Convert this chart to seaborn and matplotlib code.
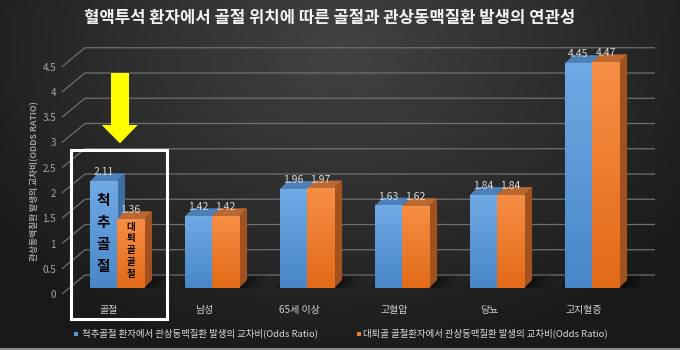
import numpy as np
import pandas as pd
import matplotlib
matplotlib.use("Agg")
import matplotlib.pyplot as plt
from matplotlib.patches import Polygon, Rectangle
import seaborn as sns

# ---- data -------------------------------------------------------------
title = "혈액투석 환자에서 골절 위치에 따른 골절과 관상동맥질환 발생의 연관성"
categories = ["골절", "남성", "65세 이상", "고혈압", "당뇨", "고지혈증"]
spine_or = [2.11, 1.42, 1.96, 1.63, 1.84, 4.45]
femur_or = [1.36, 1.42, 1.97, 1.62, 1.84, 4.47]
series_names = ["척추골절 환자에서 관상동맥질환 발생의 교차비(Odds Ratio)",
                "대퇴골 골절환자에서 관상동맥질환 발생의 교차비(Odds Ratio)"]
y_ticks = [0, 0.5, 1, 1.5, 2, 2.5, 3, 3.5, 4, 4.5]
y_title = "관상동맥질환 발생의 교차비(ODDS RATIO)"
spine_label = "척추골절"
femur_label = "대퇴골골절"

# ---- style ------------------------------------------------------------
sns.set_style("dark")
plt.rcParams["font.family"] = ["Noto Sans CJK KR", "DejaVu Sans"]

BLUE = "#5B9BD5"
ORANGE = "#ED7D31"
FRONT = [("#70AAE5", "#4886C8"), ("#F78E45", "#E26A18")]
TOP = ["#4D80B7", "#BC6832"]
SIDE = ["#3E6FA3", "#A2521E"]
TXT = "#d9d9d9"

W, H = 680, 350
fig = plt.figure(figsize=(W / 100, H / 100), dpi=100)

# background: dark radial gradient
bg = fig.add_axes([0, 0, 1, 1], zorder=0)
bg.axis("off")
yy, xx = np.mgrid[0:H, 0:W]
d = np.sqrt(((xx - 340) / 430) ** 2 + ((yy - 50) / 320) ** 2)
v = 0.26 - 0.16 * np.clip(d, 0, 1)
bg.imshow(np.dstack([v, v, v]), extent=[0, W, H, 0], aspect="auto")
bg.add_patch(Rectangle((0, H - 2.5), W, 2.5, color="#8a8a8a", lw=0))
bg.set_xlim(0, W)
bg.set_ylim(H, 0)

# plotting area: category axis in front plane
X0, PXU, Y0, PYU = 69.5, 95.0, 288.0, 50.5
ax = fig.add_axes([X0 / W, (H - Y0) / H, 6 * PXU / W, 5 * PYU / H], zorder=1)
ax.patch.set_alpha(0)


def px(x):
    return (x - X0) / PXU - 0.5


def py(y):
    return (Y0 - y) / PYU


DX, DY = 8 / PXU, 8 / PYU

# back-wall gridlines with slanted lead-ins and tick labels
for t in y_ticks:
    ax.plot([px(62), px(85), px(655)], [t + py(294), t + py(275), t + py(275)],
            color="#707070", lw=0.9, zorder=1, clip_on=False, solid_capstyle="butt")
    ax.text(px(56), t + py(295), f"{t:g}", ha="right", va="center",
            fontsize=7, color="#a6a6a6", clip_on=False)

df = pd.DataFrame({
    "category": categories * 2,
    "value": spine_or + femur_or,
    "series": [series_names[0]] * len(categories) + [series_names[1]] * len(categories),
})
sns.barplot(data=df, x="category", y="value", hue="series", order=categories,
            hue_order=series_names, palette=[BLUE, ORANGE], width=0.57, gap=0,
            saturation=1, errorbar=None, legend=False, linewidth=0, ax=ax)

values = [spine_or, femur_or]
blue_bars = list(ax.containers[0])
orange_bars = list(ax.containers[1])

# soft floor shadows under each pair of bars
for b, o in zip(blue_bars, orange_bars):
    xl = b.get_x()
    xr = o.get_x() + o.get_width()
    for g, a in [(16, 0.10), (11, 0.13), (7, 0.17), (3, 0.22)]:
        gx, gy = g / PXU, g * 0.35 / PYU
        ax.add_patch(Polygon([(xl - gx * 0.5, -gy), (xr + gx, -gy),
                              (xr + DX + gx * 1.3, DY + gy), (xl + DX - gx * 0.3, DY + gy)],
                             closed=True, color="black", alpha=a, lw=0, zorder=2))

# 3-D faces: side, top and gradient front
for s, bars in enumerate([blue_bars, orange_bars]):
    zb = 3 + 2 * s
    for bar, val in zip(bars, values[s]):
        x, w, h = bar.get_x(), bar.get_width(), bar.get_height()
        ax.add_patch(Polygon([(x + w, 0), (x + w + DX, DY), (x + w + DX, h + DY), (x + w, h)],
                             closed=True, color=SIDE[s], lw=0, zorder=zb))
        ax.add_patch(Polygon([(x, h), (x + w, h), (x + w + DX, h + DY), (x + DX, h + DY)],
                             closed=True, color=TOP[s], lw=0, zorder=zb))
        bar.set_zorder(zb + 1)
        c1 = np.array(matplotlib.colors.to_rgb(FRONT[s][0]))
        c2 = np.array(matplotlib.colors.to_rgb(FRONT[s][1]))
        f = np.linspace(0, 1, 64)[:, None, None]
        grad = c1 * (1 - f) + c2 * f
        ax.imshow(grad, extent=[x, x + w, 0, h], aspect="auto", zorder=zb + 1.1,
                  interpolation="bilinear")
        ax.text(x + w / 2, h + 9 / PYU, f"{val:.2f}", ha="center", va="center",
                fontsize=7.5, color=TXT, zorder=12)

# category labels
for i, cat in enumerate(categories):
    ax.text(i - 8 / PXU, py(310), cat, ha="center", va="center",
            fontsize=7.2, color="#d0d0d0", clip_on=False)

# stacked labels inside the first pair of bars
b0, o0 = blue_bars[0], orange_bars[0]
for j, ch in enumerate(spine_label):
    ax.text(b0.get_x() + b0.get_width() / 2,
            spine_or[0] / 2 + 0.03 + (1.5 - j) * 22 / PYU, ch,
            ha="center", va="center", fontsize=10.5, weight="bold", color="black", zorder=12)
for j, ch in enumerate(femur_label):
    ax.text(o0.get_x() + o0.get_width() / 2,
            femur_or[0] / 2 + 0.07 + (2 - j) * 11.8 / PYU, ch,
            ha="center", va="center", fontsize=6.8, weight="bold", color="black", zorder=12)

ax.set_xlim(-0.5, 5.5)
ax.set_ylim(0, 5)
ax.axis("off")

# overlay: title, axis title, legend, highlight box and arrow
ov = fig.add_axes([0, 0, 1, 1], zorder=2)
ov.axis("off")
ov.set_xlim(0, W)
ov.set_ylim(H, 0)
ov.text(330, 18, title, ha="center", va="center", fontsize=12, color="#f2f2f2", weight="bold")
ov.text(35, 181, y_title, ha="center", va="center", rotation=90, fontsize=6.3,
        color="#a0a0a0", weight="bold")
ov.add_patch(Rectangle((74, 331.5), 4, 4, color=BLUE, lw=0))
ov.text(81.5, 333.5, series_names[0], ha="left", va="center", fontsize=6.8, color=TXT)
ov.add_patch(Rectangle((356.5, 331.5), 4, 4, color=ORANGE, lw=0))
ov.text(363, 333.5, series_names[1], ha="left", va="center", fontsize=6.8, color=TXT)
ov.add_patch(Rectangle((71, 150), 96, 169, fill=False, ec="white", lw=2.2))
ov.add_patch(Polygon([(111, 73), (129, 73), (129, 125), (137.7, 125), (120, 143.3),
                      (101.7, 125), (111, 125)], closed=True, color="#FFFF00", lw=0))

fig.savefig("out.png", dpi=100)
